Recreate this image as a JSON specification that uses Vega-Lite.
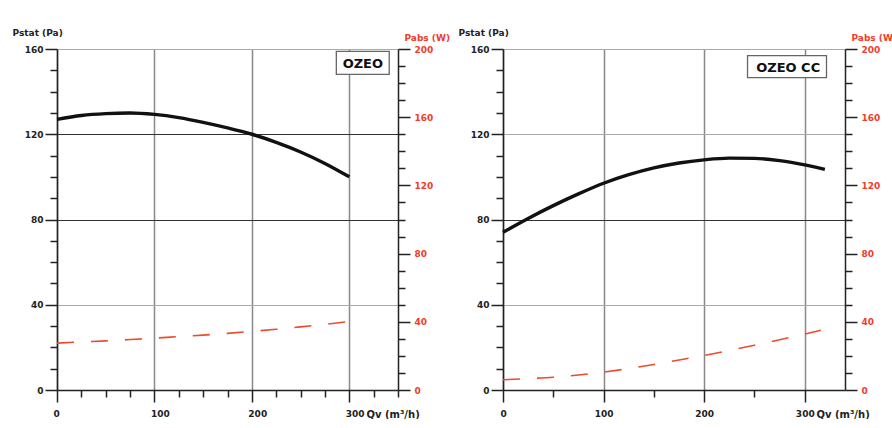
{
  "$schema": "https://vega.github.io/schema/vega-lite/v6.json",
  "background": "white",
  "padding": {"left": 12, "top": 28, "right": 0, "bottom": 0},
  "bounds": "flush",
  "spacing": 105,
  "config": {
    "view": {"stroke": null},
    "axis": {
      "labelFont": "DejaVu Sans", "labelFontWeight": "bold", "labelFontSize": 9, "labelColor": "#222",
      "titleFont": "DejaVu Sans", "titleFontWeight": "bold", "titleFontSize": 9, "titleColor": "#222",
      "domainColor": "#222", "domainWidth": 1.5, "tickColor": "#222", "tickWidth": 1.5
    }
  },
  "datasets": {
    "ozeo_pstat": [
      {"qv": 0, "pstat": 127}, {"qv": 25, "pstat": 128.8}, {"qv": 50, "pstat": 129.7}, {"qv": 75, "pstat": 130},
      {"qv": 100, "pstat": 129.3}, {"qv": 125, "pstat": 127.8}, {"qv": 150, "pstat": 125.6}, {"qv": 175, "pstat": 123},
      {"qv": 200, "pstat": 120}, {"qv": 225, "pstat": 116.2}, {"qv": 250, "pstat": 111.7}, {"qv": 275, "pstat": 106.3},
      {"qv": 300, "pstat": 100}
    ],
    "ozeo_pabs": [
      {"qv": 0, "pabs": 27.5}, {"qv": 25, "pabs": 28.2}, {"qv": 50, "pabs": 28.8}, {"qv": 75, "pabs": 29.6},
      {"qv": 100, "pabs": 30.4}, {"qv": 125, "pabs": 31.3}, {"qv": 150, "pabs": 32.2}, {"qv": 175, "pabs": 33.2},
      {"qv": 200, "pabs": 34.4}, {"qv": 225, "pabs": 35.6}, {"qv": 250, "pabs": 37}, {"qv": 275, "pabs": 38.5},
      {"qv": 300, "pabs": 40.2}
    ],
    "ozeocc_pstat": [
      {"qv": 0, "pstat": 74}, {"qv": 25, "pstat": 80.5}, {"qv": 50, "pstat": 86.5}, {"qv": 75, "pstat": 92},
      {"qv": 100, "pstat": 97}, {"qv": 125, "pstat": 101}, {"qv": 150, "pstat": 104.2}, {"qv": 175, "pstat": 106.5},
      {"qv": 200, "pstat": 108}, {"qv": 225, "pstat": 108.8}, {"qv": 250, "pstat": 108.7}, {"qv": 275, "pstat": 107.6},
      {"qv": 300, "pstat": 105.6}, {"qv": 320, "pstat": 103.5}
    ],
    "ozeocc_pabs": [
      {"qv": 0, "pabs": 6}, {"qv": 25, "pabs": 6.7}, {"qv": 50, "pabs": 7.5}, {"qv": 75, "pabs": 8.8},
      {"qv": 100, "pabs": 10.5}, {"qv": 125, "pabs": 12.6}, {"qv": 150, "pabs": 15}, {"qv": 175, "pabs": 17.6},
      {"qv": 200, "pabs": 20.3}, {"qv": 225, "pabs": 23.2}, {"qv": 250, "pabs": 26.3}, {"qv": 275, "pabs": 29.5},
      {"qv": 300, "pabs": 32.8}, {"qv": 316, "pabs": 35}
    ]
  },
  "hconcat": [
    {
      "width": 341,
      "height": 341,
      "layer": [
        {
          "data": {"name": "ozeo_pstat"},
          "mark": {"type": "line", "color": "#111", "strokeWidth": 3.4, "interpolate": "monotone"},
          "encoding": {
            "x": {"field": "qv", "type": "quantitative", "scale": {"domain": [0, 350], "nice": false},
              "axis": {"orient": "bottom", "values": [0, 100, 200, 300], "tickSize": 12, "labelPadding": 7, "labelAlign": "left", "labelOffset": -4, "labelFlush": false,
                "grid": true, "gridColor": "#888", "gridWidth": 1.5,
                "title": "Qv (m³/h)", "titleX": 309, "titleY": 19, "titleAlign": "left", "titleBaseline": "top", "titleFontSize": 10}},
            "y": {"field": "pstat", "type": "quantitative", "scale": {"domain": [0, 160], "nice": false},
              "axis": {"orient": "left", "values": [0, 40, 80, 120, 160], "tickSize": 12, "labelPadding": 2,
                "grid": true, "gridColor": {"condition": {"test": "datum.value === 80 || datum.value === 120", "value": "#333"}, "value": "#aaa"}, "gridWidth": 1,
                "title": "Pstat (Pa)", "titleAngle": 0, "titleX": -45, "titleY": -13.5, "titleAlign": "left", "titleBaseline": "alphabetic"}}
          }
        },
        {
          "data": {"name": "ozeo_pabs"},
          "mark": {"type": "line", "color": "#ee4a2c", "strokeWidth": 1.6, "strokeDash": [17, 17], "interpolate": "monotone"},
          "encoding": {
            "x": {"field": "qv", "type": "quantitative", "axis": null},
            "y": {"field": "pabs", "type": "quantitative", "scale": {"domain": [0, 200], "nice": false},
              "axis": {"orient": "right", "values": [0, 40, 80, 120, 160, 200], "tickSize": 12, "labelPadding": 4, "labelColor": "#f03c2c", "grid": false,
                "title": "Pabs (W)", "titleColor": "#f03c2c", "titleAngle": 0, "titleX": 6, "titleY": -9, "titleAlign": "left", "titleBaseline": "alphabetic"}}
          }
        },
        {
          "data": {"name": "ozeo_pstat"},
          "mark": {"type": "point", "opacity": 0},
          "encoding": {
            "x": {"field": "qv", "type": "quantitative",
              "axis": {"orient": "bottom", "values": [25, 50, 75, 125, 150, 175, 225, 250, 275, 325, 350], "tickSize": 7, "labels": false, "domain": false, "grid": false, "title": null}},
            "y": {"field": "pstat", "type": "quantitative", "scale": {"domain": [0, 160], "nice": false},
              "axis": {"orient": "left", "values": [10, 20, 30, 50, 60, 70, 90, 100, 110, 130, 140, 150], "tickSize": 7, "labels": false, "domain": false, "grid": false, "title": null}}
          }
        },
        {
          "data": {"name": "ozeo_pabs"},
          "mark": {"type": "point", "opacity": 0},
          "encoding": {
            "x": {"field": "qv", "type": "quantitative", "axis": null},
            "y": {"field": "pabs", "type": "quantitative", "scale": {"domain": [0, 200], "nice": false},
              "axis": {"orient": "right", "values": [10, 20, 30, 50, 60, 70, 90, 100, 110, 130, 140, 150, 170, 180, 190], "tickSize": 7, "labels": false, "domain": false, "grid": false, "title": null}}
          }
        },
        {
          "data": {"values": [{"name": "OZEO"}]},
          "mark": {"type": "rect", "fill": "white", "stroke": "#666", "strokeWidth": 1.3},
          "encoding": {
            "x": {"datum": 286.7, "type": "quantitative", "axis": null},
            "x2": {"datum": 341},
            "y": {"datum": 158.9, "type": "quantitative", "scale": {"domain": [0, 160], "nice": false}, "axis": null},
            "y2": {"datum": 148.1}
          }
        },
        {
          "data": {"values": [{"name": "OZEO"}]},
          "mark": {"type": "text", "font": "DejaVu Sans", "fontWeight": "bold", "fontSize": 13, "color": "#111", "align": "center", "baseline": "middle"},
          "encoding": {
            "x": {"datum": 313.9, "type": "quantitative", "axis": null},
            "y": {"datum": 153, "type": "quantitative", "scale": {"domain": [0, 160], "nice": false}, "axis": null},
            "text": {"field": "name"}
          }
        }
      ],
      "resolve": {"scale": {"y": "independent"}, "axis": {"x": "independent", "y": "independent"}}
    },
    {
      "width": 342,
      "height": 341,
      "layer": [
        {
          "data": {"name": "ozeocc_pstat"},
          "mark": {"type": "line", "color": "#111", "strokeWidth": 3.4, "interpolate": "monotone"},
          "encoding": {
            "x": {"field": "qv", "type": "quantitative", "scale": {"domain": [0, 340], "nice": false},
              "axis": {"orient": "bottom", "values": [0, 100, 200, 300], "tickSize": 12, "labelPadding": 7, "labelAlign": "center", "labelFlush": false,
                "grid": true, "gridColor": "#888", "gridWidth": 1.5,
                "title": "Qv (m³/h)", "titleX": 313, "titleY": 19, "titleAlign": "left", "titleBaseline": "top", "titleFontSize": 10}},
            "y": {"field": "pstat", "type": "quantitative", "scale": {"domain": [0, 160], "nice": false},
              "axis": {"orient": "left", "values": [0, 40, 80, 120, 160], "tickSize": 12, "labelPadding": 2,
                "grid": true, "gridColor": {"condition": {"test": "datum.value === 80", "value": "#333"}, "value": "#aaa"}, "gridWidth": 1,
                "title": "Pstat (Pa)", "titleAngle": 0, "titleX": -45, "titleY": -13.5, "titleAlign": "left", "titleBaseline": "alphabetic"}}
          }
        },
        {
          "data": {"name": "ozeocc_pabs"},
          "mark": {"type": "line", "color": "#ee4a2c", "strokeWidth": 1.6, "strokeDash": [17, 17], "interpolate": "monotone"},
          "encoding": {
            "x": {"field": "qv", "type": "quantitative", "axis": null},
            "y": {"field": "pabs", "type": "quantitative", "scale": {"domain": [0, 200], "nice": false},
              "axis": {"orient": "right", "values": [0, 40, 80, 120, 160, 200], "tickSize": 12, "labelPadding": 4, "labelColor": "#f03c2c", "grid": false,
                "title": "Pabs (W)", "titleColor": "#f03c2c", "titleAngle": 0, "titleX": 6, "titleY": -9, "titleAlign": "left", "titleBaseline": "alphabetic"}}
          }
        },
        {
          "data": {"name": "ozeocc_pstat"},
          "mark": {"type": "point", "opacity": 0},
          "encoding": {
            "x": {"field": "qv", "type": "quantitative",
              "axis": {"orient": "bottom", "values": [50, 150, 250], "tickSize": 7, "labels": false, "domain": false, "grid": false, "title": null}},
            "y": {"field": "pstat", "type": "quantitative", "scale": {"domain": [0, 160], "nice": false},
              "axis": {"orient": "left", "values": [10, 20, 30, 50, 60, 70, 90, 100, 110, 130, 140, 150], "tickSize": 7, "labels": false, "domain": false, "grid": false, "title": null}}
          }
        },
        {
          "data": {"name": "ozeocc_pabs"},
          "mark": {"type": "point", "opacity": 0},
          "encoding": {
            "x": {"field": "qv", "type": "quantitative", "axis": null},
            "y": {"field": "pabs", "type": "quantitative", "scale": {"domain": [0, 200], "nice": false},
              "axis": {"orient": "right", "values": [10, 20, 30, 50, 60, 70, 90, 100, 110, 130, 140, 150, 170, 180, 190], "tickSize": 7, "labels": false, "domain": false, "grid": false, "title": null}}
          }
        },
        {
          "data": {"values": [{"name": "OZEO CC"}]},
          "mark": {"type": "rect", "fill": "white", "stroke": "#666", "strokeWidth": 1.3},
          "encoding": {
            "x": {"datum": 243.1, "type": "quantitative", "axis": null},
            "x2": {"datum": 321.6},
            "y": {"datum": 156.9, "type": "quantitative", "scale": {"domain": [0, 160], "nice": false}, "axis": null},
            "y2": {"datum": 146.6}
          }
        },
        {
          "data": {"values": [{"name": "OZEO CC"}]},
          "mark": {"type": "text", "font": "DejaVu Sans", "fontWeight": "bold", "fontSize": 13, "color": "#111", "align": "center", "baseline": "middle"},
          "encoding": {
            "x": {"datum": 283.5, "type": "quantitative", "axis": null},
            "y": {"datum": 151.2, "type": "quantitative", "scale": {"domain": [0, 160], "nice": false}, "axis": null},
            "text": {"field": "name"}
          }
        }
      ],
      "resolve": {"scale": {"y": "independent"}, "axis": {"x": "independent", "y": "independent"}}
    }
  ]
}
